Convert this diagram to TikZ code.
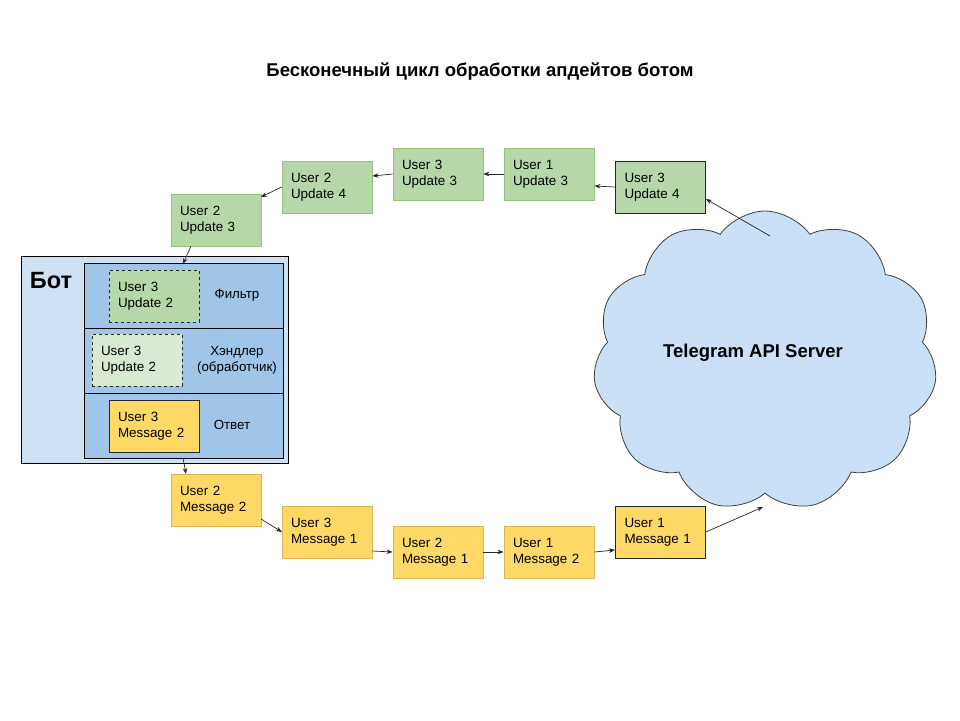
\documentclass[tikz,border=0pt]{standalone}
\usepackage{fontspec}
\setmainfont{Liberation Sans}
\usetikzlibrary{shapes.symbols,arrows.meta}
\definecolor{gfill}{HTML}{B6D7A8}
\definecolor{gline}{HTML}{93C47D}
\definecolor{glight}{HTML}{D9EAD3}
\definecolor{yfill}{HTML}{FFD966}
\definecolor{yline}{HTML}{D6B656}
\definecolor{botout}{HTML}{CFE2F3}
\definecolor{botin}{HTML}{9FC5E8}
\definecolor{cloudfill}{HTML}{C9E0F6}
\begin{document}
\begin{tikzpicture}[x=1pt,y=-1pt,
  box/.style={draw, line width=0.8pt, minimum width=90pt, minimum height=52pt, inner sep=0pt,
    text width=72pt, align=left, font=\fontsize{13.4}{16}\selectfont},
  gbox/.style={box, fill=gfill, draw=gline},
  ybox/.style={box, fill=yfill, draw=yline},
  arr/.style={-{Stealth[length=6pt,width=4.5pt]}, line width=0.7pt, black!85},
  lbl/.style={font=\fontsize{13.3}{16}\selectfont, align=center}]
\useasboundingbox (0,0) rectangle (960,720);
\node[font=\bfseries\fontsize{18.5}{22}\selectfont] (title) at (480,72) {Бесконечный цикл обработки апдейтов ботом};
% cloud
\node[cloud, cloud puffs=11, cloud puff arc=110, aspect=1.15, draw=black!75, fill=cloudfill, line width=0.8pt,
  minimum width=344pt, minimum height=300pt, inner sep=0pt] (cloud) at (765,361) {};
\node[font=\bfseries\fontsize{18.5}{22}\selectfont] (srv) at (753,353) {Telegram API Server};
% top row
\node[gbox] (u2u3) at (216,220) {User 2\\Update 3};
\node[gbox] (u2u4) at (327,187) {User 2\\Update 4};
\node[gbox] (u3u3) at (438,174) {User 3\\Update 3};
\node[gbox] (u1u3) at (549,174) {User 1\\Update 3};
\node[gbox, draw=black!85] (u3u4) at (660.5,187) {User 3\\Update 4};
% bottom row
\node[ybox] (u2m2) at (216,500) {User 2\\Message 2};
\node[ybox] (u3m1) at (327,532) {User 3\\Message 1};
\node[ybox] (u2m1) at (438,552) {User 2\\Message 1};
\node[ybox] (u1m2) at (549,552) {User 1\\Message 2};
\node[ybox, draw=black!85] (u1m1) at (660.5,532) {User 1\\Message 1};
% bot
\node[draw=black, fill=botout, line width=0.9pt, minimum width=267pt, minimum height=207pt, inner sep=0pt] (bot) at (154.5,359.5) {};
\node[font=\bfseries\fontsize{23.5}{28}\selectfont] (botlbl) at (51,281) {Бот};
\node[draw=black, fill=botin, line width=0.9pt, minimum width=199pt, minimum height=65pt, inner sep=0pt] (r1) at (183.5,296) {};
\node[draw=black, fill=botin, line width=0.9pt, minimum width=199pt, minimum height=65pt, inner sep=0pt] (r2) at (183.5,360.5) {};
\node[draw=black, fill=botin, line width=0.9pt, minimum width=199pt, minimum height=65pt, inner sep=0pt] (r3) at (183.5,425.5) {};
\node[box, fill=gfill, draw=black!85, dashed] (f) at (154,296) {User 3\\Update 2};
\node[box, fill=glight, draw=black!85, dashed] (h) at (137,360) {User 3\\Update 2};
\node[box, fill=yfill, draw=black!85] (a) at (154,426) {User 3\\Message 2};
\node[lbl] (fl) at (237,295) {Фильтр};
\node[lbl] (hl) at (237,360) {Хэндлер\\(обработчик)};
\node[lbl] (al) at (232,425) {Ответ};
% arrows top
\coordinate (cl1) at (770,236);
\draw[arr] (cl1) -- (u3u4.east |- 0,199);
\draw[arr] (u3u4.west) -- (u1u3.east |- 0,186);
\draw[arr] (u1u3.west) -- (u3u3.east);
\draw[arr] (u3u3.west) -- (u2u4.east |- 0,176);
\draw[arr] (u2u4.west) -- (261,197);
\draw[arr] (191,246) -- (183,264);
% arrows bottom
\draw[arr] (183,458) -- (186,474);
\draw[arr] (261,519) -- (282,532);
\draw[arr] (u3m1.east |- 0,551) -- (u2m1.west);
\draw[arr] (u2m1.east) -- (u1m2.west);
\draw[arr] (u1m2.east) -- (u1m1.west |- 0,550);
\coordinate (cl2) at (763,507);
\draw[arr] (u1m1.east |- 0,532) -- (cl2);
\end{tikzpicture}
\end{document}
